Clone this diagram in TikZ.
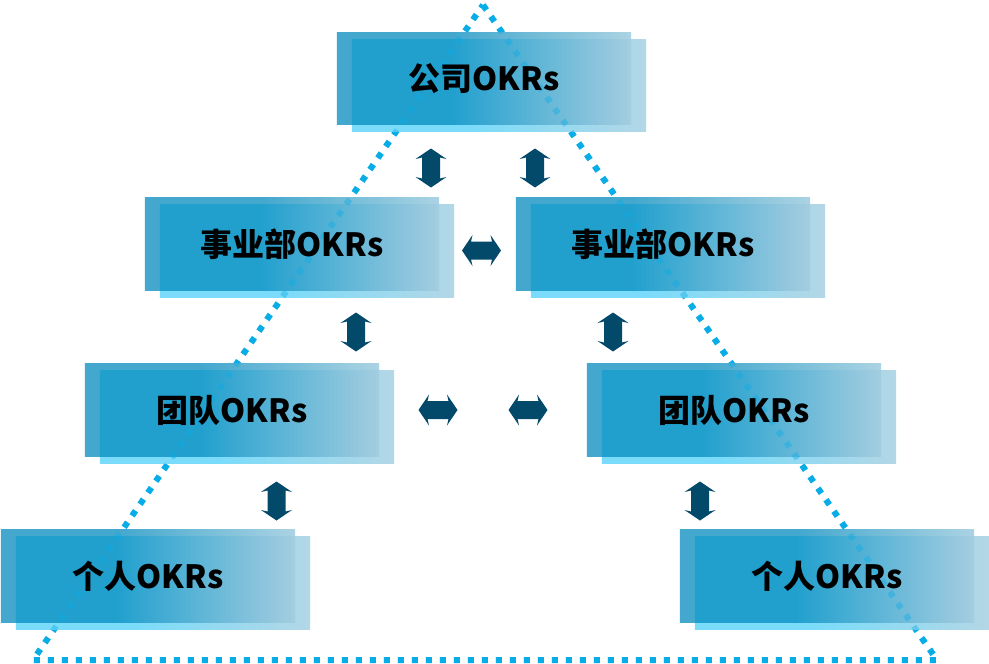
\documentclass[tikz,border=0pt]{standalone}
\usepackage{fontspec}
\newfontfamily\okrfont{Noto Sans CJK SC}
\usepackage{xcolor}
\definecolor{okr-back-left}{HTML}{44A8CE}
\definecolor{okr-back-right}{HTML}{ABD3E3}
\definecolor{okr-mid-left}{HTML}{21A0CE}
\definecolor{okr-mid-right}{HTML}{A4CDE0}
\definecolor{okr-front-left}{HTML}{7ADCFA}
\definecolor{okr-front-right}{HTML}{B3D7E6}
\definecolor{okr-arrow}{HTML}{03496A}
\definecolor{okr-dots}{HTML}{08ACE6}
\usepackage{tikz}

\pgfdeclarehorizontalshading{okrbackshade}{100bp}{color(0bp)=(okr-back-left); color(25bp)=(okr-back-left); color(45bp)=(okr-back-left); color(75bp)=(okr-back-right); color(100bp)=(okr-back-right)}
\pgfdeclarehorizontalshading{okrmidshade}{100bp}{color(0bp)=(okr-mid-left); color(25bp)=(okr-mid-left); color(43bp)=(okr-mid-left); color(75bp)=(okr-mid-right); color(100bp)=(okr-mid-right)}
\pgfdeclarehorizontalshading{okrfrontshade}{100bp}{color(0bp)=(okr-front-left); color(25bp)=(okr-front-left); color(45bp)=(okr-front-left); color(75bp)=(okr-front-right); color(100bp)=(okr-front-right)}

\pgfdeclarelayer{dots}
\pgfdeclarelayer{boxes}
\pgfdeclarelayer{overlay}
\pgfsetlayers{dots,boxes,overlay,main}

\tikzset{
    okrbox/.style={rectangle, minimum width=294pt, minimum height=92pt, inner sep=0pt,
        font=\okrfont\bfseries\fontsize{32}{38}\selectfont},
    okrback/.style={shade, shading=okrbackshade},
    okrmid/.style={shade, shading=okrmidshade},
    okrfront/.style={shade, shading=okrfrontshade},
    okrdots/.style={draw=okr-dots, line width=6pt, dash pattern=on 6pt off 8pt},
    pics/linkarrow/.style={code={
        \fill[okr-arrow] (-19.5,0) -- (-9,-15.5) -- (-10.5,-9) -- (10.5,-9) -- (9,-15.5) -- (19.5,0) -- (9,15.5) -- (10.5,9) -- (-10.5,9) -- (-9,15.5) -- cycle;
    }}
}

\begin{document}
\begin{tikzpicture}[x=1pt, y=-1pt]

    \useasboundingbox (0, 0) rectangle (989, 664);

    % Boxes
    \node[okrbox] (company) at (484, 78.5) {公司OKRs};
    \node[okrbox] (deptL) at (292, 244) {事业部OKRs};
    \node[okrbox] (deptR) at (663, 244) {事业部OKRs};
    \node[okrbox] (teamL) at (232, 410) {团队OKRs};
    \node[okrbox] (teamR) at (734, 410) {团队OKRs};
    \node[okrbox] (personL) at (148, 576) {个人OKRs};
    \node[okrbox] (personR) at (827, 576) {个人OKRs};

    % Box fills: front, back, overlap
    \begin{pgfonlayer}{boxes}
        \foreach \n in {company, deptL, deptR, teamL, teamR, personL, personR} {
            \shade[okrfront] ([shift={(15, 7)}]\n.north west) rectangle ([shift={(15, 7)}]\n.south east);
            \shade[okrback] (\n.north west) rectangle (\n.south east);
            \shade[okrmid] ([shift={(15, 7)}]\n.north west) rectangle (\n.south east);
        }
    \end{pgfonlayer}

    % Pyramid
    \coordinate (apex) at (483, 5);
    \coordinate (baseR) at (937, 660);
    \coordinate (baseL) at (33, 660);
    \begin{pgfonlayer}{dots}
        \draw[okrdots] (apex) -- (baseR) -- (baseL) -- cycle;
    \end{pgfonlayer}
    \begin{pgfonlayer}{overlay}
        \draw[okrdots, draw opacity=0.4] (apex) -- (baseR) -- (baseL) -- cycle;
    \end{pgfonlayer}

    % Arrows
    \pic[rotate=90] at (431, 168) {linkarrow};
    \pic[rotate=90] at (535, 168) {linkarrow};
    \pic[rotate=90] at (356, 332) {linkarrow};
    \pic[rotate=90] at (613, 332) {linkarrow};
    \pic[rotate=90] at (276.5, 501) {linkarrow};
    \pic[rotate=90] at (700, 501) {linkarrow};

    \pic at (481.5, 250.5) {linkarrow};
    \pic at (438, 410) {linkarrow};
    \pic at (528, 410) {linkarrow};

\end{tikzpicture}
\end{document}
